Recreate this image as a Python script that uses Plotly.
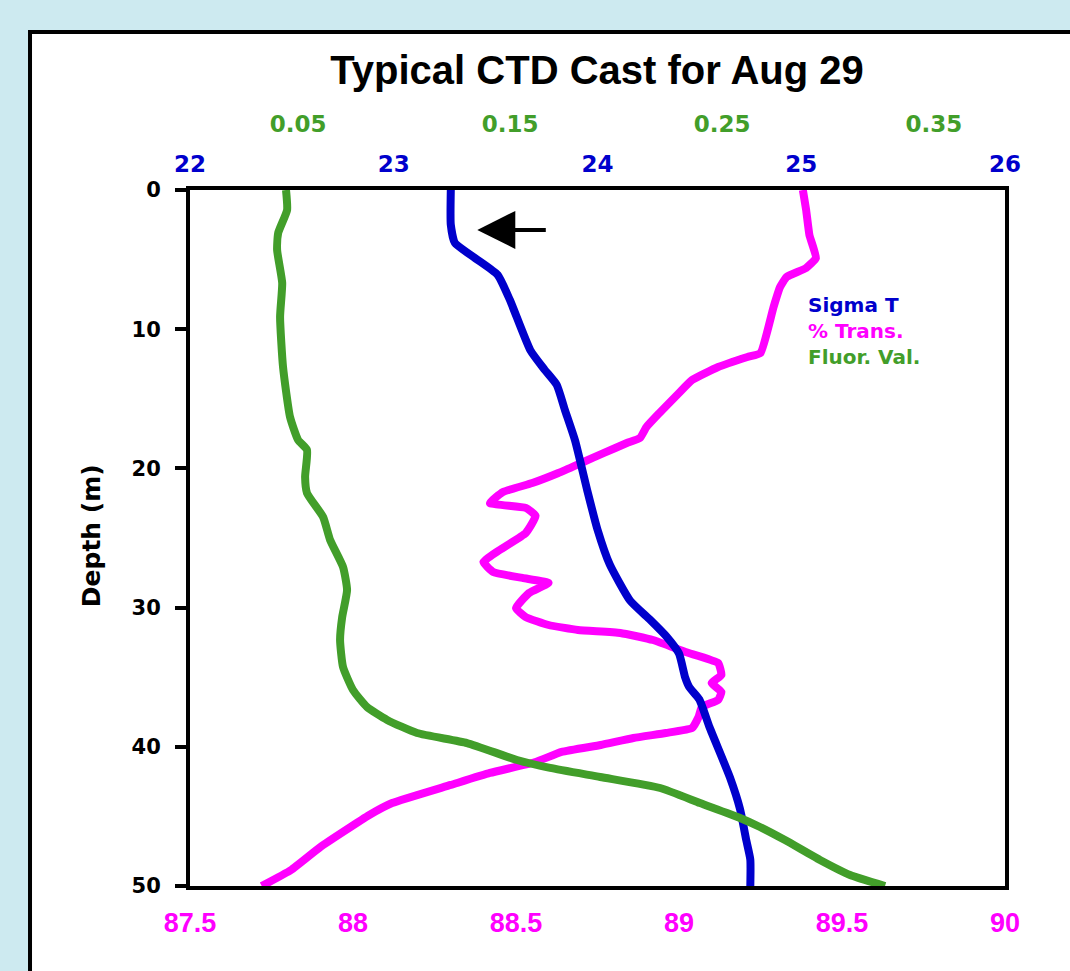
import plotly.graph_objects as go

# ---------------- data ----------------
sigma_depth = [0, 2.5, 3.8, 4.9, 6.1, 7.9, 11.5, 12.9, 14.0, 15.8, 18.0, 21.6, 24.4, 26.9,
               29.5, 30.9, 32.1, 33.3, 35.0, 35.7, 36.6, 38.6, 42.2, 44.5, 46.7, 48.1, 50]
sigma_t = [23.28, 23.28, 23.30, 23.40, 23.51, 23.57, 23.67, 23.74, 23.80, 23.84, 23.89, 23.95,
           24.00, 24.06, 24.16, 24.26, 24.34, 24.40, 24.43, 24.45, 24.50, 24.55, 24.65, 24.70,
           24.73, 24.75, 24.75]

trans_depth = [0, 1.44, 3.23, 4.89, 5.60, 6.25, 6.97, 8.41, 11.71, 12.0, 12.72, 13.65, 14.58,
               16.02, 17.03, 17.82, 18.18, 18.89, 19.61, 20.33, 21.05, 21.70, 22.49, 22.84,
               23.42, 24.64, 25.86, 26.72, 27.44, 27.87, 28.23, 28.95, 30.03, 30.68, 31.25,
               31.61, 31.82, 32.33, 33.19, 33.98, 34.84, 35.42, 36.06, 36.64, 37.14, 37.86,
               38.65, 39.01, 39.37, 39.87, 40.37, 41.09, 41.88, 42.74, 44.04, 44.90, 47.20,
               48.85, 50.0]
trans = [89.38, 89.39, 89.40, 89.42, 89.39, 89.33, 89.31, 89.29, 89.25, 89.21, 89.12, 89.04,
         89.00, 88.94, 88.90, 88.88, 88.84, 88.77, 88.70, 88.63, 88.55, 88.46, 88.42, 88.53,
         88.56, 88.53, 88.45, 88.40, 88.43, 88.52, 88.60, 88.54, 88.50, 88.53, 88.60, 88.69,
         88.82, 88.92, 89.02, 89.12, 89.13, 89.10, 89.13, 89.12, 89.07, 89.06, 89.04, 88.96,
         88.86, 88.76, 88.64, 88.56, 88.42, 88.30, 88.12, 88.05, 87.90, 87.81, 87.72]

fluor_depth = [0, 1.44, 3.09, 4.31, 6.68, 9.12, 12.72, 16.31, 17.96, 18.68, 20.62, 21.77,
               23.49, 25.14, 27.08, 28.74, 30.68, 32.33, 34.27, 35.92, 37.14, 38.07, 39.01,
               39.73, 40.95, 41.52, 42.17, 42.96, 44.04, 45.11, 45.76, 46.70, 48.13, 49.21, 50.0]
fluor = [0.0443, 0.0448, 0.0406, 0.0401, 0.0425, 0.0415, 0.0429, 0.0462, 0.0500, 0.0542,
         0.0533, 0.0542, 0.0618, 0.0651, 0.0712, 0.0731, 0.0708, 0.0698, 0.0712, 0.0759,
         0.0825, 0.0920, 0.1061, 0.1297, 0.1533, 0.1689, 0.1925, 0.2208, 0.2396, 0.2585,
         0.2679, 0.2797, 0.2962, 0.3104, 0.3269]

depth_ticks = [0, 10, 20, 30, 40, 50]
trans_ticks = [87.5, 88, 88.5, 89, 89.5, 90]
sigma_ticks = [22, 23, 24, 25, 26]
fluor_ticks = [0.05, 0.15, 0.25, 0.35]

BLUE = "#0000cc"
PINK = "#ff00ff"
GREEN = "#429e2a"
BG = "#cdeaf0"

fig = go.Figure()
fig.add_trace(go.Scatter(x=fluor, y=fluor_depth, xaxis="x3", yaxis="y", mode="lines",
                         line=dict(color=GREEN, width=8, shape="spline", smoothing=0.5),
                         name="Fluor. Val.", showlegend=False))
fig.add_trace(go.Scatter(x=trans, y=trans_depth, xaxis="x", yaxis="y", mode="lines",
                         line=dict(color=PINK, width=8, shape="spline", smoothing=0.4),
                         name="% Trans.", showlegend=False))
fig.add_trace(go.Scatter(x=sigma_t, y=sigma_depth, xaxis="x2", yaxis="y", mode="lines",
                         line=dict(color=BLUE, width=8, shape="spline", smoothing=0.5),
                         name="Sigma T", showlegend=False))

fig.update_layout(
    width=1070, height=971, autosize=False,
    margin=dict(l=190, r=65, t=190, b=85),
    paper_bgcolor=BG, plot_bgcolor="white",
    showlegend=False,
    xaxis=dict(range=[87.5, 90], tickvals=trans_ticks, ticktext=[str(v) for v in trans_ticks],
               side="bottom", showgrid=False, zeroline=False, ticks="",
               showline=True, linecolor="black", linewidth=4, mirror=True,
               tickfont=dict(family="Liberation Sans", size=27, color=PINK, weight="bold"),
               ticklabelstandoff=10),
    xaxis2=dict(range=[22, 26], tickvals=sigma_ticks, overlaying="x", anchor="y", side="top",
                showgrid=False, zeroline=False, showline=False, ticks="",
                tickfont=dict(family="DejaVu Sans", size=23, color=BLUE, weight="bold"),
                ticklabelstandoff=12),
    xaxis3=dict(range=[-0.001, 0.3835], tickvals=fluor_ticks,
                ticktext=["0.05", "0.15", "0.25", "0.35"], overlaying="x", anchor="y",
                side="top", showgrid=False, zeroline=False, showline=False, ticks="",
                tickfont=dict(family="DejaVu Sans", size=23, color=GREEN, weight="bold"),
                ticklabelstandoff=52),
    yaxis=dict(range=[50, 0], tickvals=depth_ticks, showgrid=False, zeroline=False,
               showline=True, linecolor="black", linewidth=4, mirror=True,
               ticks="outside", ticklen=11, tickwidth=4, tickcolor="black",
               tickfont=dict(family="DejaVu Sans", size=21, color="black", weight="bold"),
               ticklabelstandoff=10),
    title=dict(text="Typical CTD Cast for Aug 29", xref="container", yref="container",
               x=0.558, y=1 - 70 / 971, xanchor="center", yanchor="middle",
               font=dict(family="Liberation Sans", size=40, color="black", weight="bold")),
)

# white panel with black border
fig.add_shape(type="rect", xref="paper", yref="paper", x0=-0.1963, x1=1.3, y0=-0.3, y1=1.227,
              fillcolor="white", line=dict(color="black", width=4), layer="below")

# y-axis title
fig.add_annotation(text="Depth (m)", xref="paper", yref="paper", x=-0.1215, y=0.504,
                   textangle=-90, showarrow=False, xanchor="center", yanchor="middle",
                   font=dict(family="DejaVu Sans", size=25, color="black", weight="bold"))

# legend text
legend_items = [("Sigma T", BLUE), ("% Trans.", PINK), ("Fluor. Val.", GREEN)]
for i, (label, col) in enumerate(legend_items):
    fig.add_annotation(text=label, xref="paper", yref="paper", x=0.7558,
                       y=0.8348 - i * 0.0375, xanchor="left", yanchor="middle",
                       showarrow=False,
                       font=dict(family="DejaVu Sans", size=20, color=col, weight="bold"))

# arrow marking the surface layer
fig.add_annotation(x=23.41, y=2.87, xref="x2", yref="y", text="", showarrow=True,
                   ax=70, ay=0, axref="pixel", ayref="pixel",
                   arrowhead=2, arrowsize=1.9, arrowwidth=4, arrowcolor="black")

fig.write_html("out.html", config={"displayModeBar": False},
               post_script="document.body.style.margin='0';document.body.style.overflow='hidden';")
